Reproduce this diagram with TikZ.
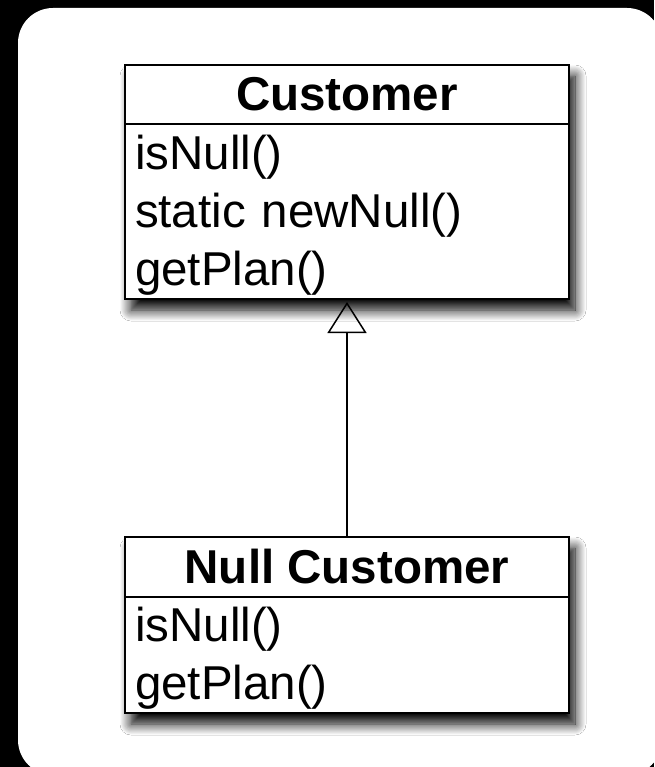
\documentclass[tikz,border=0pt]{standalone}
\usepackage{fontspec}
\setmainfont{Liberation Sans}
\usepackage{tikz}
\usetikzlibrary{positioning,arrows.meta,shadows.blur}

\begin{document}
\begin{tikzpicture}[x=1pt,y=-1pt,
  hdr/.style={draw,line width=2.5pt,fill=white,outer sep=0pt,inner sep=0pt,
              minimum width=444pt,minimum height=59pt,
              font=\fontsize{47.5pt}{58pt}\selectfont\bfseries},
  ops/.style={draw,line width=2.5pt,fill=white,outer sep=0pt,
              inner xsep=10pt,inner ysep=0pt,text width=424pt,align=left,
              font=\fontsize{47.5pt}{58pt}\selectfont},
  ombra/.style={fill=white,blur shadow={shadow xshift=6pt,shadow yshift=-11pt,
                shadow blur radius=11pt,shadow blur steps=12,shadow opacity=100}},
  inh/.style={-{Triangle[open,length=31pt,width=39pt,line width=1.5pt]},
              line width=1.5pt,shorten >=3pt}]
\useasboundingbox (0,0) rectangle (654,767);
% fond
\fill[black] (0,0) rectangle (654,767);
\fill[white,rounded corners=35pt] (18,8) rectangle (662,775);
% ombre
\coordinate (custnw) at (125,65);
\coordinate (custse) at (569,299);
\coordinate (ncustnw) at (125,537);
\coordinate (ncustse) at (569,713);
\path[ombra] (custnw) rectangle (custse);
\path[ombra] (ncustnw) rectangle (ncustse);
% classe base
\node[hdr] (cust) at (347,94.5) {Customer};
\node[ops,below=0pt of cust,minimum height=175pt] (custops)
  {\rule{0pt}{41pt}isNull()\\static newNull()\\getPlan()};
% classe nulla
\node[hdr,minimum height=60pt] (ncust) at (347,567) {Null Customer};
\node[ops,below=0pt of ncust,minimum height=116pt] (ncustops)
  {\rule{0pt}{41pt}isNull()\\getPlan()};
% ereditarieta
\draw[inh] (ncust.north) -- (custops.south);
\end{tikzpicture}
\end{document}
